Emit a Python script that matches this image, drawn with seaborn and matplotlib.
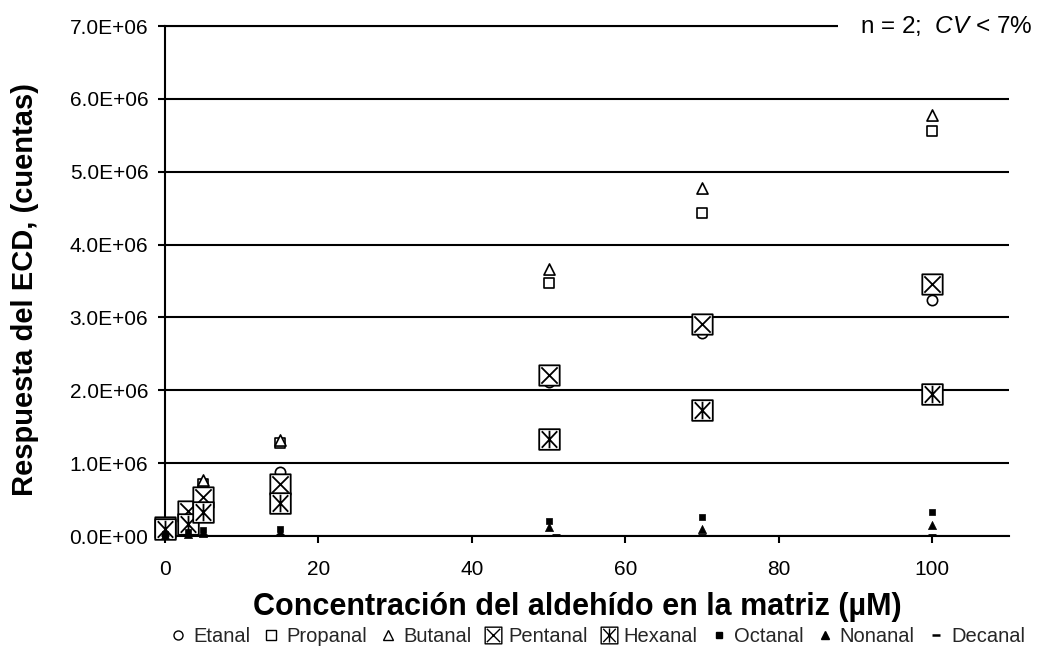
import numpy as np
import pandas as pd
import matplotlib
matplotlib.use("Agg")
import matplotlib.pyplot as plt
from matplotlib.path import Path
from matplotlib.lines import Line2D
from matplotlib.ticker import FuncFormatter
import seaborn as sns

# ---------------- data ----------------
conc = [0, 3, 5, 15, 50, 70, 100]
conc_decanal = [0, 3, 5, 15, 51, 70, 100]

etanal   = [0.05e6, 0.40e6, 0.58e6, 0.88e6, 2.12e6, 2.78e6, 3.24e6]
propanal = [0.04e6, 0.36e6, 0.72e6, 1.28e6, 3.47e6, 4.44e6, 5.56e6]
butanal  = [0.05e6, 0.40e6, 0.77e6, 1.32e6, 3.67e6, 4.77e6, 5.78e6]
pentanal = [0.13e6, 0.35e6, 0.54e6, 0.72e6, 2.21e6, 2.91e6, 3.46e6]
hexanal  = [0.10e6, 0.17e6, 0.33e6, 0.45e6, 1.33e6, 1.73e6, 1.95e6]
octanal  = [0.03e6, 0.05e6, 0.08e6, 0.10e6, 0.20e6, 0.26e6, 0.33e6]
nonanal  = [0.02e6, 0.03e6, 0.04e6, 0.05e6, 0.12e6, 0.10e6, 0.15e6]
decanal  = [0.01e6, 0.01e6, 0.01e6, 0.01e6, 0.02e6, 0.01e6, 0.02e6]

series_names = ["Etanal", "Propanal", "Butanal", "Pentanal", "Hexanal",
                "Octanal", "Nonanal", "Decanal"]

x_ticks = [0, 20, 40, 60, 80, 100]
y_ticks = [0, 1e6, 2e6, 3e6, 4e6, 5e6, 6e6, 7e6]

xlabel = "Concentración del aldehído en la matriz (µM)"
ylabel = "Respuesta del ECD, (cuentas)"

# ---------------- custom markers ----------------
M, L, C = Path.MOVETO, Path.LINETO, Path.CLOSEPOLY
box_x = Path(
    [(-1, -1), (1, -1), (1, 1), (-1, 1), (-1, -1),
     (-0.8, -0.8), (0.8, 0.8), (-0.8, 0.8), (0.8, -0.8)],
    [M, L, L, L, C, M, L, M, L])
box_star = Path(
    [(-1, -1), (1, -1), (1, 1), (-1, 1), (-1, -1),
     (-0.75, -0.8), (0.75, 0.8), (-0.75, 0.8), (0.75, -0.8),
     (0, -0.85), (0, 0.85)],
    [M, L, L, L, C, M, L, M, L, M, L])
dash = Path([(-1, 0), (1, 0)], [M, L])

# ---------------- figure ----------------
sns.set_theme(style="white")
plt.rcParams["font.family"] = ["Liberation Sans", "DejaVu Sans"]
plt.rcParams["mathtext.fontset"] = "custom"
plt.rcParams["mathtext.rm"] = "Liberation Sans"
plt.rcParams["mathtext.it"] = "Liberation Sans:italic"

fig = plt.figure(figsize=(10.38, 6.59), dpi=100)
ax = fig.add_axes([165 / 1038, 1 - 536 / 659, (1009 - 165) / 1038, (536 - 26) / 659])

styles = {
    "Etanal":   dict(marker="o", s=55, color="white", edgecolor="black", linewidth=1.2),
    "Propanal": dict(marker="s", s=48, color="white", edgecolor="black", linewidth=1.2),
    "Butanal":  dict(marker="^", s=64, color="white", edgecolor="black", linewidth=1.2),
    "Pentanal": dict(marker=box_x, s=215, color="white", edgecolor="black", linewidth=1.3),
    "Hexanal":  dict(marker=box_star, s=220, color="white", edgecolor="black", linewidth=1.3),
    "Octanal":  dict(marker="s", s=20, color="black", edgecolor="black", linewidth=0.5),
    "Nonanal":  dict(marker="^", s=34, color="black", edgecolor="black", linewidth=0.5),
    "Decanal":  dict(marker=dash, s=40, color="black", edgecolor="black", linewidth=2.0),
}
values = [etanal, propanal, butanal, pentanal, hexanal, octanal, nonanal, decanal]
xs = [conc] * 7 + [conc_decanal]

for i, (name, yv, xv) in enumerate(zip(series_names, values, xs)):
    sns.scatterplot(x=xv, y=yv, ax=ax, clip_on=False, zorder=3 + i * 0.1,
                    legend=False, **styles[name])

ax.set_xlim(0, 110)
ax.set_ylim(0, 7e6)
ax.set_xticks(x_ticks)
ax.set_yticks(y_ticks)
ax.yaxis.set_major_formatter(FuncFormatter(lambda v, p: f"{v:.1E}"))

ax.grid(axis="y", color="black", linewidth=1.5)
ax.grid(axis="x", visible=False)
ax.set_axisbelow(True)
for side in ["left", "bottom"]:
    ax.spines[side].set_color("black")
    ax.spines[side].set_linewidth(1.5)
ax.spines["right"].set_visible(False)
ax.spines["top"].set_color("black")
ax.spines["top"].set_linewidth(1.5)

ax.tick_params(axis="both", which="major", direction="out", length=5, width=1.5,
               color="black", labelsize=15, labelcolor="black",
               left=True, bottom=True)
ax.tick_params(axis="x", pad=12)
ax.tick_params(axis="y", pad=7)

ax.set_xlabel(xlabel, fontsize=22, fontweight="bold", color="black")
ax.set_ylabel(ylabel, fontsize=21, fontweight="bold", color="black")
ax.xaxis.label.set_va("center")
ax.xaxis.set_label_coords(0.488, (536 - 607) / 510)
ax.yaxis.label.set_va("center")
ax.yaxis.label.set_ha("center")
ax.yaxis.set_label_coords((25 - 165) / 844, (536 - 290) / 510)

fig.text(1032 / 1038, 1 - 26 / 659, r"n = 2;  $\it{CV}$ < 7%", ha="right", va="center",
         fontsize=17.5, color="black", zorder=10)
# white patch covering end of the top border line
fig.patches.append(plt.Rectangle((838 / 1038, 1 - 42 / 659), 200 / 1038, 32 / 659,
                                 transform=fig.transFigure, facecolor="white",
                                 edgecolor="none", zorder=5))

# legend
leg_sizes = {"Etanal": 6.5, "Propanal": 6.5, "Butanal": 7.5, "Pentanal": 12, "Hexanal": 12,
             "Octanal": 5, "Nonanal": 6, "Decanal": 5.5}
handles = []
for name in series_names:
    st = styles[name]
    handles.append(Line2D([], [], linestyle="none", marker=st["marker"],
                          markersize=leg_sizes[name],
                          markerfacecolor=st["color"], markeredgecolor="black",
                          markeredgewidth=1.0 if name != "Decanal" else 1.8))
fig.legend(handles, series_names, loc="center", bbox_to_anchor=(597 / 1038, 1 - 637 / 659),
           ncol=8, frameon=False, fontsize=14.5, handlelength=0.9, handletextpad=0.3,
           columnspacing=0.6, borderaxespad=0)

fig.savefig("out.png", dpi=100)
